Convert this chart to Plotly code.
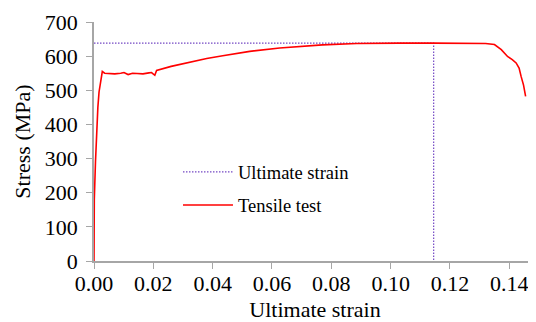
import plotly.graph_objects as go

# Tensile test curve (strain, stress MPa)
strain = [0.0, 0.0001, 0.0005, 0.0009, 0.0013, 0.0017, 0.0020, 0.0024, 0.0028, 0.0036,
          0.0050, 0.0070, 0.0090, 0.0101, 0.0115, 0.0130, 0.0145, 0.0165, 0.0185, 0.0194,
          0.0205, 0.0211, 0.0260, 0.0323, 0.0380, 0.0434, 0.0525, 0.0626, 0.0700, 0.0770,
          0.0885, 0.0950, 0.1030, 0.1145, 0.1250, 0.1320, 0.1350, 0.1373, 0.1394, 0.1410,
          0.1423, 0.1433, 0.1440, 0.1448, 0.1455]
stress = [0, 180, 290, 394, 450, 495, 511, 535, 555, 550,
          549, 548, 550, 552, 546, 550, 549, 548, 551, 552,
          544, 558, 570, 583, 593, 601, 614, 624, 629, 633,
          637, 638, 638, 638, 638, 637, 634, 619, 599, 590,
          580, 565, 540, 515, 482]

ult_strain = 0.1145
ult_stress = 638

x_ticks = [0.00, 0.02, 0.04, 0.06, 0.08, 0.10, 0.12, 0.14]
y_ticks = [0, 100, 200, 300, 400, 500, 600, 700]

fig = go.Figure()
fig.add_trace(go.Scatter(
    x=[0, ult_strain, ult_strain], y=[ult_stress, ult_stress, 0],
    mode="lines", name="Ultimate strain", legendgroup="a",
    line=dict(color="#7448C4", width=1.2, dash="1.5px,1.5px"),
))
fig.add_trace(go.Scatter(
    x=strain, y=stress, mode="lines", name="Tensile test", legendgroup="b",
    line=dict(color="#FF0000", width=1.6),
))

font = "Liberation Serif"
fig.update_layout(
    width=528, height=314,
    margin=dict(l=86, r=0, t=14, b=61, autoexpand=False),
    plot_bgcolor="white", paper_bgcolor="white",
    font=dict(family=font, color="black", size=22),
    showlegend=True,
    legend=dict(x=0.19, y=0.45, xanchor="left", yanchor="top",
                font=dict(size=18.5, family=font), bgcolor="rgba(0,0,0,0)",
                traceorder="grouped", tracegroupgap=6, itemwidth=50),
    xaxis=dict(range=[0, 0.149], tickvals=x_ticks, tickformat=".2f",
               showgrid=False, zeroline=False, showline=True, linecolor="#A6A6A6",
               linewidth=1.5, ticks="outside", tickcolor="#A6A6A6", ticklen=6,
               ticklabelstandoff=-4,
               tickfont=dict(size=22, family=font),
               title=dict(text="Ultimate strain", font=dict(size=22, family=font), standoff=10)),
    yaxis=dict(range=[0, 700], tickvals=y_ticks,
               showgrid=False, zeroline=False, showline=True, linecolor="#A6A6A6",
               linewidth=1.5, ticks="outside", tickcolor="#A6A6A6", ticklen=6,
               ticklabelstandoff=4,
               tickfont=dict(size=22, family=font),
               title=dict(text="Stress (MPa)", font=dict(size=22, family=font), standoff=8)),
)
fig.write_html("out.html")
